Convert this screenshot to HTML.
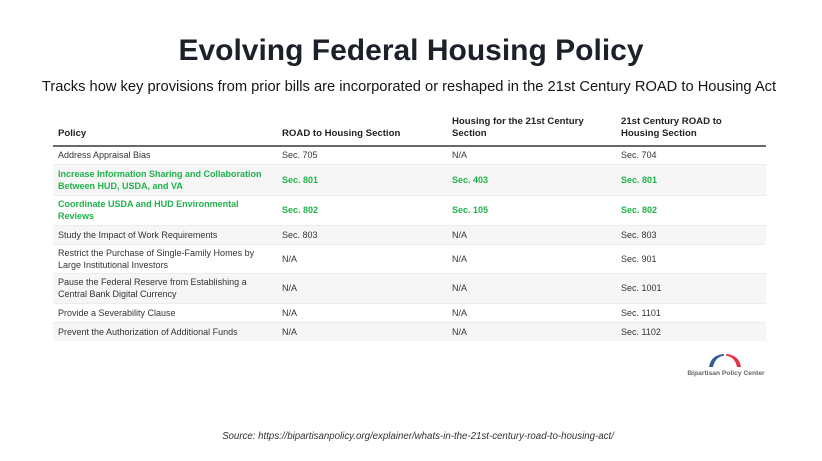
<!DOCTYPE html>
<html>
<head>
<meta charset="utf-8">
<style>
  html,body{margin:0;padding:0;}
  body{width:822px;height:461px;background:#fff;position:relative;overflow:hidden;font-family:"Liberation Sans",Arial,sans-serif;}
  .abs{position:absolute;white-space:nowrap;}
  #title{left:0;width:822px;top:36px;text-align:center;font-size:30px;line-height:30px;font-weight:bold;color:#1c2129;}
  #sub{left:0;width:818px;top:79px;text-align:center;font-size:14.7px;line-height:17px;color:#151515;}
  .hd{font-size:9.6px;line-height:12px;font-weight:bold;color:#222;}
  #hline{left:53px;top:145px;width:713px;height:2px;background:#6a6a6a;}
  table{position:absolute;left:53px;top:147px;width:713px;border-collapse:collapse;table-layout:fixed;}
  td{font-size:9px;line-height:12px;color:#333;padding:0 0 0 5px;vertical-align:middle;}
  tr.g td{background:#f6f6f6;}
  tr td{border-top:1px solid #ececec;}
  tr.first td{border-top:none;}
  tr.grn td{color:#1fb24a;font-weight:bold;}
  #src{left:7px;width:822px;top:431px;text-align:center;font-size:9.7px;line-height:12px;font-style:italic;color:#333;}
  #logo-t{left:684px;top:370px;width:84px;text-align:center;font-size:6.7px;line-height:8px;font-weight:bold;color:#666;}
</style>
</head>
<body>
<div id="title" class="abs">Evolving Federal Housing Policy</div>
<div id="sub" class="abs">Tracks how key provisions from prior bills are incorporated or reshaped in the 21st Century ROAD to Housing Act</div>

<div class="abs hd" style="left:58px;top:128px;">Policy</div>
<div class="abs hd" style="left:282px;top:128px;">ROAD to Housing Section</div>
<div class="abs hd" style="left:452px;top:116px;">Housing for the 21st Century<br>Section</div>
<div class="abs hd" style="left:621px;top:116px;">21st Century ROAD to<br>Housing Section</div>
<div id="hline" class="abs"></div>

<table>
  <colgroup><col style="width:224px"><col style="width:170px"><col style="width:169px"><col style="width:150px"></colgroup>
  <tr class="first" style="height:17px"><td>Address Appraisal Bias</td><td>Sec. 705</td><td>N/A</td><td>Sec. 704</td></tr>
  <tr class="g grn" style="height:31px"><td>Increase Information Sharing and Collaboration<br>Between HUD, USDA, and VA</td><td>Sec. 801</td><td>Sec. 403</td><td>Sec. 801</td></tr>
  <tr class="grn" style="height:30px"><td>Coordinate USDA and HUD Environmental<br>Reviews</td><td>Sec. 802</td><td>Sec. 105</td><td>Sec. 802</td></tr>
  <tr class="g" style="height:19px"><td>Study the Impact of Work Requirements</td><td>Sec. 803</td><td>N/A</td><td>Sec. 803</td></tr>
  <tr style="height:29px"><td>Restrict the Purchase of Single-Family Homes by<br>Large Institutional Investors</td><td>N/A</td><td>N/A</td><td>Sec. 901</td></tr>
  <tr class="g" style="height:30px"><td>Pause the Federal Reserve from Establishing a<br>Central Bank Digital Currency</td><td>N/A</td><td>N/A</td><td>Sec. 1001</td></tr>
  <tr style="height:19px"><td>Provide a Severability Clause</td><td>N/A</td><td>N/A</td><td>Sec. 1101</td></tr>
  <tr class="g" style="height:19px"><td>Prevent the Authorization of Additional Funds</td><td>N/A</td><td>N/A</td><td>Sec. 1102</td></tr>
</table>

<svg class="abs" style="left:700px;top:348px" width="50" height="22" viewBox="0 0 50 22">
  <path d="M9 19 Q11 7 24 6 L24 7.6 Q15 9 13 19 Z" fill="#2f5d93"/>
  <path d="M41 19 Q39 7 26 6 L26 7.6 Q35 9 37 19 Z" fill="#e53343"/>
</svg>
<div id="logo-t" class="abs">Bipartisan Policy Center</div>

<div id="src" class="abs">Source: https://bipartisanpolicy.org/explainer/whats-in-the-21st-century-road-to-housing-act/</div>
</body>
</html>
